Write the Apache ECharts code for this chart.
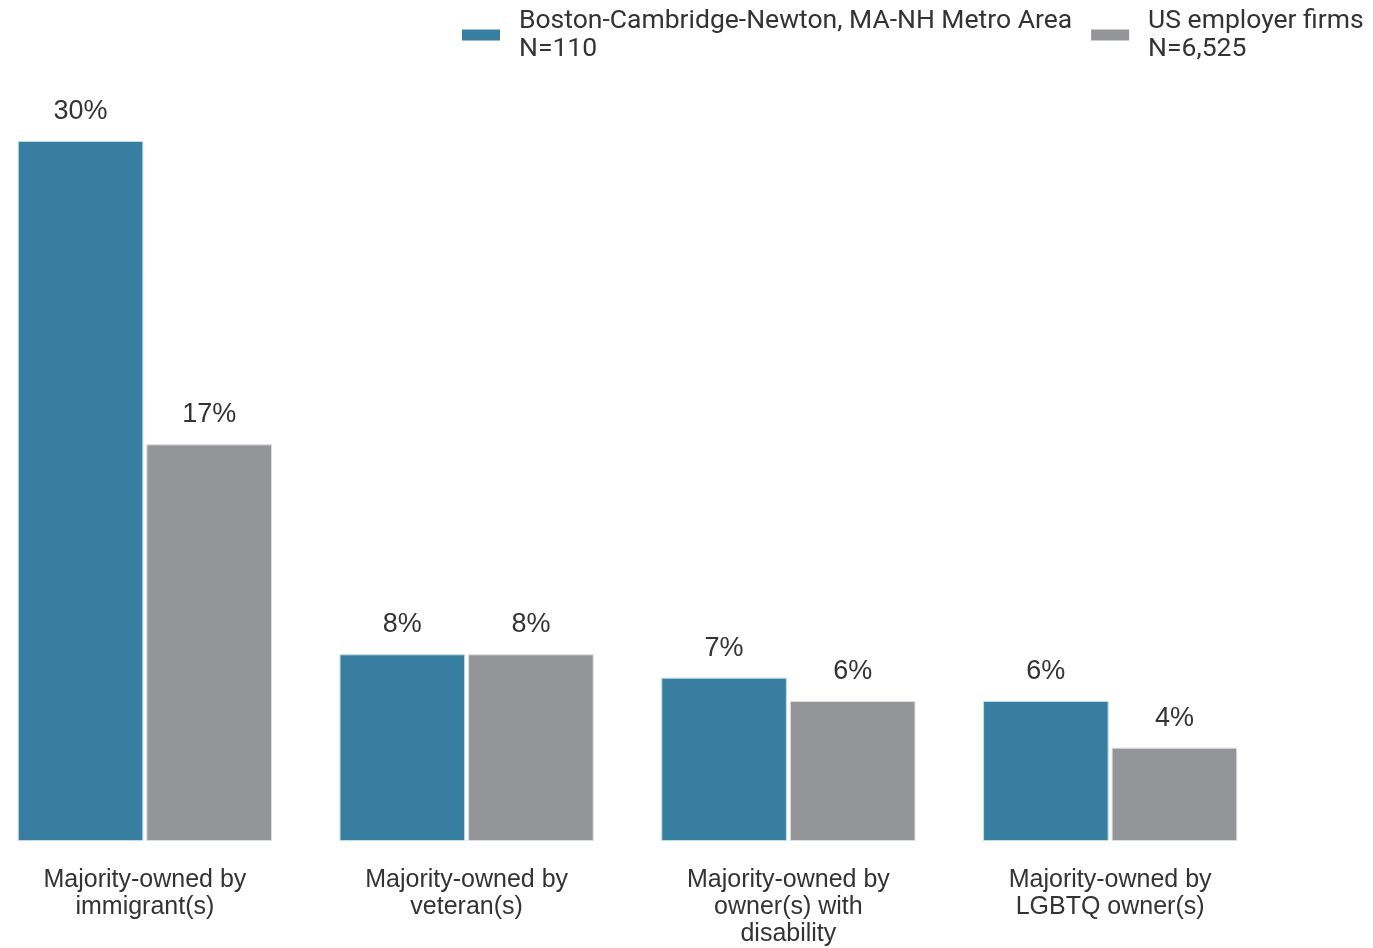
<!DOCTYPE html>
<html>
<head>
<meta charset="utf-8">
<script src="https://cdn.jsdelivr.net/npm/echarts@6/dist/echarts.min.js"></script>
<style>
html, body { margin: 0; padding: 0; background: #fff; overflow: hidden; }
#chart { position: absolute; left: -16px; top: 0; width: 1389px; height: 948px; }
</style>
</head>
<body>
<div id="chart"></div>
<script>
const categories = [
  'Majority-owned by\nimmigrant(s)',
  'Majority-owned by\nveteran(s)',
  'Majority-owned by\nowner(s) with\ndisability',
  'Majority-owned by\nLGBTQ owner(s)'
]
const seriesNames = ['Boston-Cambridge-Newton, MA-NH Metro Area\nN=110', 'US employer firms\nN=6,525']
const bostonValues = [30, 8, 7, 6]
const usValues = [17, 8, 6, 4]

const chart = echarts.init(document.getElementById('chart'))

const labelStyle = {
  show: true,
  position: 'top',
  distance: 16,
  formatter: '{c}%',
  fontFamily: 'Liberation Sans',
  fontSize: 27,
  color: '#333'
}

chart.setOption({
  animation: false,
  color: ['#387ea0', '#939598'],
  legend: {
    left: 473,
    top: 2,
    itemWidth: 38,
    itemHeight: 11,
    itemGap: 19,
    icon: 'rect',
    selectedMode: false,
    itemStyle: { borderWidth: 0 },
    textStyle: {
      fontFamily: 'Roboto',
      fontSize: 26.5,
      lineHeight: 28,
      color: '#333',
      padding: [0, 0, 0, 14]
    },
    data: seriesNames
  },
  grid: { left: 0, right: 102, top: 141, bottom: 104 },
  xAxis: {
    type: 'category',
    data: categories,
    axisLine: { show: false },
    axisTick: { show: false },
    axisLabel: {
      margin: 26,
      fontFamily: 'Liberation Sans',
      fontSize: 25,
      lineHeight: 27,
      color: '#333',
      interval: 0
    }
  },
  yAxis: {
    type: 'value',
    min: 0,
    max: 30,
    show: false
  },
  series: [
    {
      name: seriesNames[0],
      type: 'bar',
      data: bostonValues,
      barCategoryGap: '21%',
      barGap: '2.4%',
      label: labelStyle,
      itemStyle: { borderColor: '#bfdcea', borderWidth: 1 }
    },
    {
      name: seriesNames[1],
      type: 'bar',
      data: usValues,
      label: labelStyle,
      itemStyle: { borderColor: '#dcdde0', borderWidth: 1 }
    }
  ]
})
</script>
</body>
</html>
